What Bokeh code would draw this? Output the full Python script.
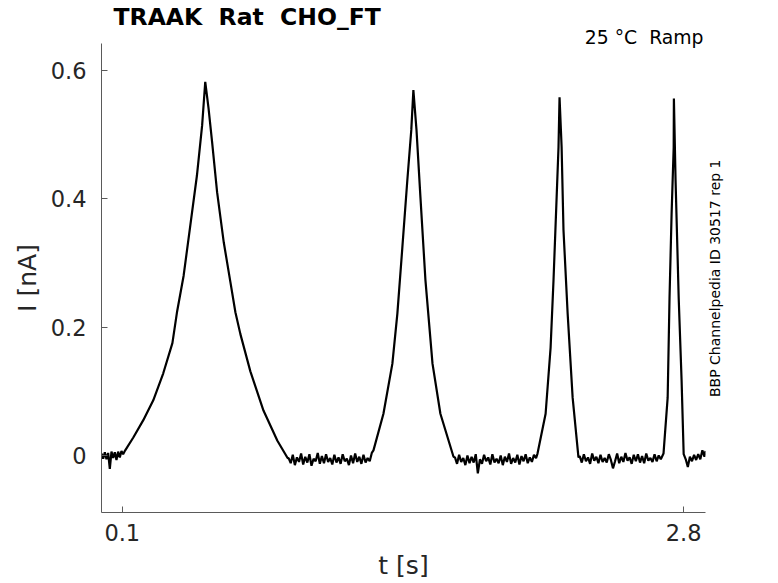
import math
from bokeh.plotting import figure
from bokeh.models import FixedTicker, Range1d, ColumnDataSource, Title, LinearAxis
from bokeh.embed import file_html
from bokeh.resources import INLINE

# ---------------- data ----------------
TITLE = "TRAAK  Rat  CHO_FT"
SUBTITLE = "25 °C  Ramp"
SIDE_NOTE = "BBP Channelpedia ID 30517 rep 1"
X_LABEL = "t [s]"
Y_LABEL = "I [nA]"

x_ticks = [0.1, 2.8]
x_tick_labels = ["0.1", "2.8"]
y_ticks = [0, 0.2, 0.4, 0.6]
y_tick_labels = ["0", "0.2", "0.4", "0.6"]

X_START, X_END = 0.0, 2.905
Y_START, Y_END = -0.0888, 0.6416

base0_t = [0.000, 0.008, 0.016, 0.024, 0.032, 0.040, 0.048, 0.056, 0.064, 0.072,
           0.080, 0.088, 0.096, 0.104]
base0_i = [0.003, -0.005, 0.005, -0.006, 0.004, -0.021, 0.006, -0.004, 0.005, -0.007,
           0.006, -0.003, 0.007, 0.002]

peak1_t = [0.114, 0.153, 0.201, 0.249, 0.297, 0.341, 0.363, 0.395, 0.427, 0.459,
           0.484, 0.499, 0.515, 0.532, 0.556, 0.588, 0.620, 0.644, 0.668, 0.716,
           0.779, 0.846, 0.895]
peak1_i = [0.008, 0.028, 0.055, 0.086, 0.128, 0.175, 0.223, 0.280, 0.358, 0.436,
           0.514, 0.582, 0.540, 0.488, 0.410, 0.332, 0.270, 0.223, 0.189, 0.131,
           0.070, 0.023, -0.004]

base1_t = [0.90, 0.91, 0.92, 0.93, 0.94, 0.95, 0.96, 0.97, 0.98, 0.99,
           1.00, 1.01, 1.02, 1.03, 1.04, 1.05, 1.06, 1.07, 1.08, 1.09,
           1.10, 1.11, 1.12, 1.13, 1.14, 1.15, 1.16, 1.17, 1.18, 1.19,
           1.20, 1.21, 1.22, 1.23, 1.24, 1.25, 1.26, 1.27, 1.28, 1.29,
           1.30]
base1_i = [-0.004, -0.012, 0.001, -0.015, -0.003, -0.010, 0.003, -0.014, -0.002, -0.011,
           0.002, -0.016, -0.005, -0.009, 0.004, -0.013, -0.001, -0.012, 0.002, -0.010,
           -0.004, -0.014, 0.001, -0.011, -0.003, -0.013, 0.002, -0.009, -0.005, -0.015,
           0.000, -0.012, 0.003, -0.010, -0.002, -0.013, 0.001, -0.011, -0.004, -0.009,
           0.004]

peak2_t = [1.308, 1.356, 1.399, 1.423, 1.447, 1.471, 1.490, 1.500, 1.515, 1.534,
           1.558, 1.592, 1.630, 1.693]
peak2_i = [0.008, 0.065, 0.143, 0.221, 0.324, 0.429, 0.507, 0.569, 0.507, 0.402,
           0.273, 0.143, 0.065, -0.002]

base2_t = [1.70, 1.71, 1.72, 1.73, 1.74, 1.75, 1.76, 1.77, 1.78, 1.79,
           1.80, 1.81, 1.82, 1.83, 1.84, 1.85, 1.86, 1.87, 1.88, 1.89,
           1.90, 1.91, 1.92, 1.93, 1.94, 1.95, 1.96, 1.97, 1.98, 1.99,
           2.00, 2.01, 2.02, 2.03, 2.04, 2.05, 2.06, 2.07, 2.08, 2.09]
base2_i = [-0.003, -0.013, 0.001, -0.010, -0.004, -0.015, 0.000, -0.012, -0.002, -0.011,
           0.002, -0.028, -0.006, -0.013, 0.001, -0.009, -0.003, -0.014, 0.002, -0.011,
           -0.005, -0.012, 0.000, -0.015, -0.002, -0.010, 0.003, -0.013, -0.004, -0.011,
           0.001, -0.014, -0.001, -0.009, 0.002, -0.012, -0.003, -0.010, 0.001, -0.004]

peak3_t = [2.097, 2.136, 2.160, 2.174, 2.189, 2.198, 2.203, 2.213, 2.222, 2.242,
           2.266, 2.294]
peak3_i = [0.003, 0.065, 0.168, 0.273, 0.402, 0.480, 0.558, 0.480, 0.351, 0.221,
           0.090, -0.003]

base3_t = [2.30, 2.31, 2.32, 2.33, 2.34, 2.35, 2.36, 2.37, 2.38, 2.39,
           2.40, 2.41, 2.42, 2.43, 2.44, 2.45, 2.46, 2.47, 2.48, 2.49,
           2.50, 2.51, 2.52, 2.53, 2.54, 2.55, 2.56, 2.57, 2.58, 2.59,
           2.60, 2.61, 2.62, 2.63, 2.64, 2.65, 2.66, 2.67, 2.68, 2.69]
base3_i = [-0.001, -0.011, 0.002, -0.009, -0.003, -0.013, 0.003, -0.008, -0.002, -0.012,
           0.001, -0.010, -0.004, -0.011, 0.002, -0.007, -0.020, -0.009, 0.003, -0.012,
           -0.002, -0.010, 0.004, -0.008, -0.003, -0.013, 0.001, -0.009, 0.002, -0.011,
           -0.001, -0.012, 0.003, -0.008, -0.004, -0.010, 0.002, -0.009, 0.000, -0.006]

peak4_t = [2.703, 2.723, 2.732, 2.742, 2.752, 2.753, 2.761, 2.776, 2.790, 2.800]
peak4_i = [0.003, 0.090, 0.246, 0.377, 0.480, 0.556, 0.429, 0.246, 0.117, 0.002]

base4_t = [2.81, 2.82, 2.83, 2.84, 2.85, 2.86, 2.87, 2.88, 2.89, 2.90, 2.905]
base4_i = [-0.006, -0.018, -0.002, -0.009, 0.001, -0.007, 0.002, -0.006, 0.008, -0.002, 0.007]

# ---------------- assemble ----------------
t_all = (base0_t + peak1_t + base1_t + peak2_t + base2_t + peak3_t
         + base3_t + peak4_t + base4_t)
i_all = (base0_i + peak1_i + base1_i + peak2_i + base2_i + peak3_i
         + base3_i + peak4_i + base4_i)
n = min(len(t_all), len(i_all))
src = ColumnDataSource(data=dict(t=t_all[:n], i=i_all[:n]))


def keep_spaces(s):
    # keep the double spaces visible in SVG text
    return s.replace("  ", " \u00a0")


TEXT = "#262626"
AXIS = "#5a5a5a"
FONT = "DejaVu Sans"

W, H = 778, 583
p = figure(width=W, height=H, output_backend="svg", toolbar_location=None,
           x_range=Range1d(X_START, X_END), y_range=Range1d(Y_START, Y_END),
           min_border_left=101, min_border_right=W - 705, min_border_top=43,
           min_border_bottom=H - 512)
p.outline_line_color = None
p.grid.visible = False
p.background_fill_color = "white"
p.border_fill_color = "white"

p.line("t", "i", source=src, line_color="black", line_width=2.2)

# subtitle (nearest the frame) and title
p.add_layout(Title(text=keep_spaces(SUBTITLE), align="right", offset=2, standoff=-9.5,
                   text_font=FONT, text_font_size="18.8px", text_font_style="normal",
                   text_color="black"), "above")
p.add_layout(Title(text=keep_spaces(TITLE), align="left", offset=12, standoff=-2,
                   text_font=FONT, text_font_size="23.5px", text_font_style="bold",
                   text_color="black"), "above")

# axes
p.xaxis.ticker = FixedTicker(ticks=x_ticks)
p.xaxis.major_label_overrides = {k: v for k, v in zip(x_ticks, x_tick_labels)}
p.yaxis.ticker = FixedTicker(ticks=y_ticks)
p.yaxis.major_label_overrides = {k: v for k, v in zip(y_ticks, y_tick_labels)}
for ax in (p.xaxis[0], p.yaxis[0]):
    ax.axis_line_color = AXIS
    ax.axis_line_width = 1
    ax.major_tick_line_color = AXIS
    ax.major_tick_in = 6
    ax.major_tick_out = 0
    ax.minor_tick_line_color = None
    ax.major_label_text_font = FONT
    ax.major_label_text_font_size = "22.5px"
    ax.major_label_text_color = TEXT
    ax.axis_label_text_font = FONT
    ax.axis_label_text_font_size = "25px"
    ax.axis_label_text_font_style = "normal"
    ax.axis_label_text_color = TEXT
p.xaxis.major_label_standoff = 11
p.yaxis.major_label_standoff = 15
p.xaxis.axis_label = X_LABEL
p.xaxis.axis_label_standoff = 7
p.yaxis.axis_label = Y_LABEL
p.yaxis.axis_label_standoff = 6

# side note: the single (rotated) tick label of an empty axis on the right,
# starting at its lower end and reading bottom to top
SIDE_START = 0.091
side = LinearAxis(ticker=FixedTicker(ticks=[SIDE_START]),
                  major_label_overrides={SIDE_START: SIDE_NOTE},
                  major_label_orientation=math.pi / 2,
                  axis_line_color=None, major_tick_line_color=None,
                  minor_tick_line_color=None, major_label_standoff=10,
                  major_tick_in=0, major_tick_out=0,
                  major_label_text_font=FONT, major_label_text_font_size="14px",
                  major_label_text_color="black")
p.add_layout(side, "right")

open("out.html", "w").write(file_html(p, INLINE))
